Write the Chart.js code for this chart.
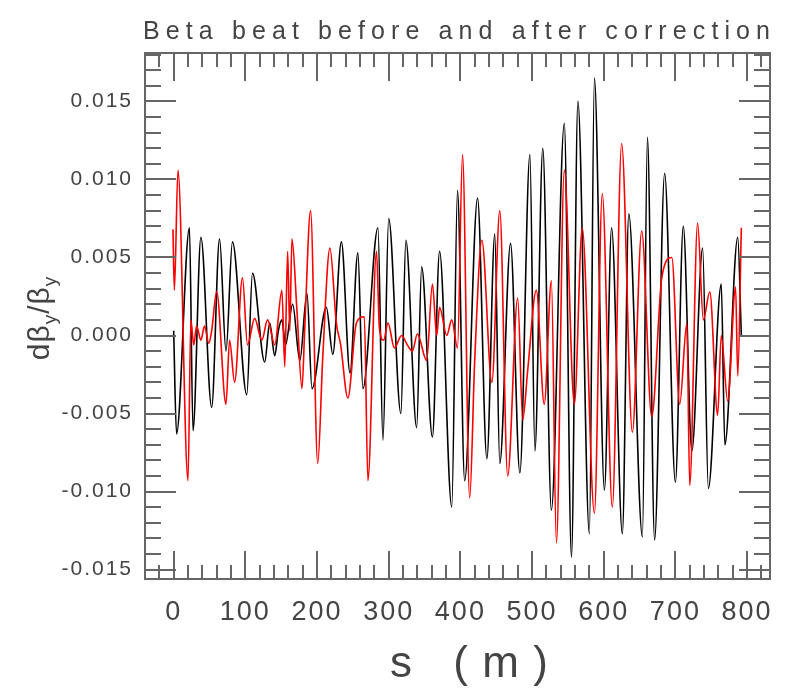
<!DOCTYPE html>
<html>
<head>
<meta charset="utf-8">
<script src="https://cdn.jsdelivr.net/npm/chart.js@4.4.1/dist/chart.umd.min.js"></script>
<style>
  html, body { margin: 0; background: #fff; }
  #wrap { width: 785px; height: 688px; }
</style>
</head>
<body>
<div id="wrap"><canvas id="beta"></canvas></div>
<script>
// beta beat before correction (black), s in m
const sBefore = [0, 4, 22, 27, 38, 53, 64, 73, 82, 102, 110, 127, 134, 141, 146, 151, 156, 166, 176, 186,
  193, 213, 222, 234, 246, 257, 264, 285, 292, 300, 317, 324, 339, 346, 361, 371, 388, 396, 406, 424,
  437, 448, 455, 470, 483, 497, 504, 515, 527, 545, 555, 564, 580, 587, 601, 611, 626, 635, 654, 661,
  671, 685, 700, 711, 723, 738, 746, 764, 769, 787, 792];
const betaBefore = [0.0003, -0.0063, 0.0069, -0.0061, 0.0063, -0.0046, 0.0062, -0.0010, 0.0060, -0.0038,
  0.0040, -0.0017, 0.0008, -0.0013, 0.0003, 0.0010, -0.0006, 0.0020, -0.0016, 0.0027,
  -0.0034, 0.0018, -0.0012, 0.0060, -0.0024, 0.0053, -0.0034, 0.0069, -0.0067, 0.0075,
  -0.0050, 0.0061, -0.0059, 0.0044, -0.0065, 0.0054, -0.0110, 0.0093, -0.0093, 0.0088,
  -0.0079, 0.0065, -0.0082, 0.0059, -0.0088, 0.0116, -0.0074, 0.0120, -0.0112, 0.0136,
  -0.0142, 0.0150, -0.0127, 0.0165, -0.0099, 0.0069, -0.0127, 0.0078, -0.0129, 0.0127,
  -0.0131, 0.0104, -0.0094, 0.0070, -0.0074, 0.0056, -0.0098, 0.0033, -0.0070, 0.0063, 0.0000];

// after correction (red)
const sAfter = [-1, 1, 6, 20, 24, 28, 32, 38, 43, 49, 53, 60, 73, 78, 85, 96, 103, 113, 123, 131,
  141, 151, 155, 159, 162, 165, 172, 179, 183, 191, 201, 208, 218, 227, 233, 243, 255, 266, 271, 283,
  287, 293, 299, 308, 318, 326, 333, 340, 353, 361, 367, 371, 381, 388, 396, 403, 413, 420, 430, 444,
  455, 466, 480, 487, 494, 506, 517, 527, 534, 545, 559, 570, 587, 598, 612, 625, 640, 653, 667, 681,
  695, 706, 716, 720, 731, 739, 748, 759, 764, 773, 784, 787, 792];
const betaAfter = [0.0068, 0.0029, 0.0106, -0.0093, 0.0010, -0.0006, 0.0006, -0.0003, 0.0006, -0.0005,
  0.0003, 0.0028, -0.0044, -0.0003, -0.0030, 0.0037, -0.0006, 0.0011, -0.0003, 0.0010,
  -0.0006, 0.0029, -0.0020, 0.0054, 0.0003, 0.0062, 0.0016, -0.0034, 0.0006, 0.0080,
  -0.0082, -0.0014, 0.0056, 0.0008, -0.0006, -0.0040, 0.0008, 0.0012, -0.0093, 0.0054,
  0.0005, -0.0003, 0.0008, -0.0008, 0.0000, -0.0006, -0.0010, 0.0001, -0.0016, 0.0033,
  0.0000, 0.0018, 0.0000, 0.0010, -0.0008, 0.0116, -0.0104, -0.0016, 0.0061, -0.0030,
  0.0080, -0.0090, 0.0024, -0.0054, -0.0022, 0.0029, -0.0044, 0.0035, -0.0133, 0.0106,
  -0.0044, 0.0069, -0.0114, 0.0091, -0.0110, 0.0123, -0.0062, 0.0067, -0.0052, 0.0037,
  0.0050, -0.0044, 0.0008, -0.0096, 0.0072, 0.0010, 0.0028, -0.0051, 0.0000, -0.0042,
  0.0031, -0.0026, 0.0069];

const xTicks = [0, 100, 200, 300, 400, 500, 600, 700, 800];
const yTicks = [-0.015, -0.010, -0.005, 0.000, 0.005, 0.010, 0.015];

const titleText = "Beta beat before and after correction";
const xTitle = "s (m)";

const frameColor = "#666";
const textColor = "#444";
const fontFamily = "'Liberation Sans', Arial, sans-serif";

// draw text with letter spacing stretched to a target width
function fitText(ctx, text, x, y, size, width) {
  ctx.font = `${size}px ${fontFamily}`;
  ctx.letterSpacing = "0px";
  const w = ctx.measureText(text).width;
  const gap = (width - w) / (text.length - 1);
  ctx.letterSpacing = gap + "px";
  ctx.fillText(text, x, y);
  ctx.letterSpacing = "0px";
}

const idlFrame = {
  id: "idlFrame",
  beforeDraw(chart) {
    chart.ctx.letterSpacing = "2px";
  },
  afterDatasetsDraw(chart) {
    const { ctx, chartArea: a, scales } = chart;
    const xs = scales.x, ys = scales.y;
    ctx.save();
    ctx.strokeStyle = frameColor;
    ctx.lineWidth = 2;
    ctx.beginPath();
    for (let v = -20; v <= 820; v += 20) {
      const px = Math.round(xs.getPixelForValue(v));
      const len = v % 100 === 0 ? 28 : 14;
      ctx.moveTo(px, a.bottom); ctx.lineTo(px, a.bottom - len);
      ctx.moveTo(px, a.top); ctx.lineTo(px, a.top + len);
    }
    for (let k = -15; k <= 18; k++) {
      const py = Math.round(ys.getPixelForValue(k / 1000));
      const len = k % 5 === 0 ? 31 : 16;
      ctx.moveTo(a.left, py); ctx.lineTo(a.left + len, py);
      ctx.moveTo(a.right, py); ctx.lineTo(a.right - len, py);
    }
    ctx.stroke();
    ctx.strokeRect(a.left, a.top, a.right - a.left, a.bottom - a.top);
    ctx.restore();
  },
  afterDraw(chart) {
    const { ctx } = chart;
    ctx.save();
    ctx.fillStyle = textColor;
    ctx.textBaseline = "alphabetic";
    ctx.textAlign = "left";
    fitText(ctx, titleText, 143, 39, 25, 627);
    fitText(ctx, xTitle, 390, 677, 44, 158);

    // y title: d beta_y / beta_y, rotated
    ctx.translate(40, 318);
    ctx.rotate(-Math.PI / 2);
    ctx.letterSpacing = "1px";
    const parts = [["d\u03B2", 30, 0], ["y", 19, 7], ["/\u03B2", 30, 0], ["y", 19, 7]];
    let total = 0;
    parts.forEach(p => { ctx.font = `${p[1]}px ${fontFamily}`; total += ctx.measureText(p[0]).width; });
    let x = -total / 2;
    parts.forEach(p => {
      ctx.font = `${p[1]}px ${fontFamily}`;
      ctx.fillText(p[0], x, 9 + p[2]);
      x += ctx.measureText(p[0]).width;
    });
    ctx.restore();
  }
};

new Chart(document.getElementById("beta"), {
  type: "line",
  data: {
    datasets: [
      {
        label: "before",
        data: sBefore.map((s, i) => ({ x: s, y: betaBefore[i] })),
        borderColor: "#000",
        borderWidth: 1.6,
        order: 2
      },
      {
        label: "after",
        data: sAfter.map((s, i) => ({ x: s, y: betaAfter[i] })),
        borderColor: "#ff0000",
        borderWidth: 1.6,
        order: 1
      }
    ]
  },
  options: {
    responsive: true,
    maintainAspectRatio: false,
    animation: false,
    elements: {
      point: { radius: 0 },
      line: { cubicInterpolationMode: "monotone" }
    },
    layout: { padding: { left: 0, right: 15, top: 53, bottom: 0 } },
    plugins: {
      legend: { display: false },
      tooltip: { enabled: false }
    },
    scales: {
      x: {
        type: "linear",
        min: -40,
        max: 832,
        grid: { display: false },
        border: { display: false },
        afterBuildTicks: (s) => { s.ticks = xTicks.map(v => ({ value: v })); },
        afterFit: (s) => { s.height = 109; },
        ticks: {
          color: textColor,
          font: { family: fontFamily, size: 27 },
          padding: 9,
          maxRotation: 0,
          autoSkip: false
        }
      },
      y: {
        type: "linear",
        min: -0.0156,
        max: 0.0181,
        grid: { display: false },
        border: { display: false },
        afterBuildTicks: (s) => { s.ticks = yTicks.map(v => ({ value: v })); },
        afterFit: (s) => { s.width = 145; },
        ticks: {
          color: textColor,
          font: { family: fontFamily, size: 21 },
          padding: 4,
          callback: (v) => v.toFixed(3)
        }
      }
    }
  },
  plugins: [idlFrame]
});
</script>
</body>
</html>
